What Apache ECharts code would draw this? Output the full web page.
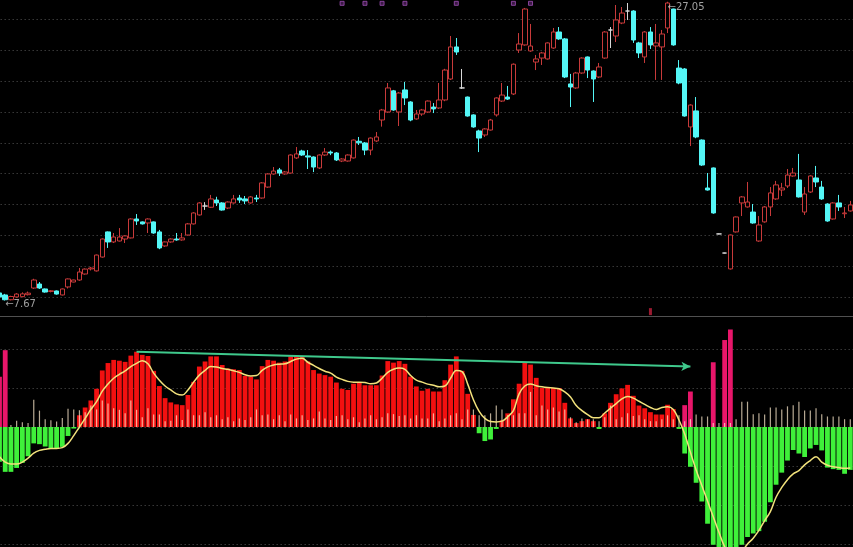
<!DOCTYPE html>
<html><head><meta charset="utf-8">
<script src="https://cdn.jsdelivr.net/npm/echarts@6/dist/echarts.min.js"></script>
<style>html,body{margin:0;padding:0;background:#000;overflow:hidden}#c{width:853px;height:547px}</style>
</head><body><div id="c"></div>
<script>
// ---- data ----
// candles: [open, close, low, high]
const candles = [
[8.16,7.90,7.83,8.29],[8.03,7.72,7.67,8.10],[7.72,7.93,7.68,7.98],[7.90,8.09,7.85,8.15],[7.92,8.10,7.88,8.20],
[8.05,8.15,8.00,8.25],[8.48,9.00,8.42,9.08],[8.74,8.48,8.42,8.87],[8.42,8.22,8.18,8.45],[8.26,8.30,8.20,8.35],
[8.29,8.09,8.05,8.32],[8.03,8.42,8.00,8.45],[8.55,9.07,8.45,9.10],[8.87,9.00,8.85,9.02],[9.00,9.52,8.95,9.78],
[9.39,9.71,9.35,9.75],[9.72,9.78,9.62,9.85],[9.59,10.62,9.55,10.65],[10.49,11.66,10.45,11.70],[12.12,11.47,11.08,12.15],
[11.47,11.79,11.40,12.05],[11.53,11.79,11.50,12.37],[11.66,11.86,11.40,11.90],[11.73,12.96,11.70,13.00],[12.96,12.83,12.57,13.28],
[12.77,12.64,12.60,12.80],[12.70,12.96,12.05,13.00],[12.77,12.05,12.00,12.80],[12.12,11.08,11.00,12.25],[11.21,11.47,11.15,11.50],
[11.47,11.66,11.42,11.70],[11.66,11.60,11.55,12.05],[11.60,11.73,11.55,12.05],[11.92,12.64,11.88,12.70],[12.64,13.35,12.60,13.40],
[13.22,14.00,13.18,14.05],[13.80,13.80,13.55,14.05],[13.72,14.26,13.68,14.52],[14.19,14.00,13.80,14.40],[14.00,13.54,13.50,14.05],
[13.67,14.06,13.60,14.10],[14.00,14.26,13.95,14.52],[14.32,14.19,14.00,14.52],[14.26,14.13,13.93,14.45],[14.00,14.39,13.95,14.45],
[14.32,14.26,14.06,14.52],[14.32,15.30,14.28,15.35],[15.03,15.88,14.98,15.93],[15.88,16.07,15.83,16.33],[16.14,15.94,15.75,16.27],
[15.88,16.01,15.83,16.07],[15.94,17.11,15.90,17.15],[16.92,17.18,16.85,17.63],[17.37,17.11,17.05,17.45],[17.05,16.98,16.20,17.43],
[16.98,16.33,16.00,17.02],[16.27,17.11,16.20,17.15],[17.11,17.30,17.05,17.56],[17.30,17.24,17.10,17.40],[17.24,16.79,16.72,17.30],
[16.72,16.85,16.65,16.90],[16.72,17.11,16.68,17.15],[16.92,18.08,16.88,18.12],[18.00,17.90,17.76,18.28],[17.89,17.43,17.10,17.95],
[17.43,18.21,17.10,18.25],[18.02,18.28,17.95,18.60],[19.38,20.03,18.95,20.10],[19.90,21.46,19.85,21.78],[21.27,20.03,19.98,21.33],
[19.90,21.13,18.99,21.20],[21.33,20.81,20.35,21.85],[20.55,19.38,19.30,20.60],[19.45,19.77,19.40,20.03],[19.77,20.03,19.65,20.10],
[19.90,20.61,19.85,20.65],[20.22,20.10,19.83,20.48],[20.16,20.68,20.10,21.78],[20.68,22.62,20.60,22.70],[22.04,24.12,21.98,24.83],
[24.12,23.79,23.60,24.70],[21.46,21.46,21.40,22.69],[20.87,19.64,19.60,20.90],[19.71,18.93,18.88,19.75],[18.67,18.21,17.30,18.75],
[18.41,18.80,18.28,18.85],[18.73,19.38,18.70,19.45],[19.71,20.81,19.60,20.85],[20.61,21.00,20.55,21.78],[20.87,20.74,20.68,21.59],
[21.07,23.00,21.00,23.05],[23.92,24.31,23.73,25.02],[24.25,26.58,24.20,26.65],[23.86,24.18,23.80,25.61],[23.14,23.34,22.62,23.60],
[23.40,23.73,22.95,23.80],[23.34,24.38,23.30,24.42],[24.05,25.09,24.00,25.35],[25.09,24.64,24.58,25.41],[24.64,22.17,22.10,24.70],
[21.72,21.52,20.22,22.37],[21.46,22.43,21.40,22.50],[22.43,23.40,22.38,23.45],[23.47,22.62,22.10,23.50],[22.56,22.04,20.55,22.60],
[22.17,22.82,22.10,23.08],[23.40,25.09,23.35,25.15],[25.22,25.22,24.05,25.41],[24.83,25.87,24.44,26.84],[25.67,26.32,25.60,26.71],
[26.45,26.45,25.87,26.97],[26.45,24.57,24.38,26.50],[24.38,23.73,23.40,24.45],[23.47,25.09,23.08,25.15],[25.09,24.25,23.99,25.41],
[24.18,24.38,21.98,25.61],[24.12,24.96,21.98,25.22],[25.35,26.97,25.02,27.05],[26.58,24.25,24.20,26.60],[22.75,21.78,21.70,23.27],
[22.69,19.64,19.60,22.75],[18.93,20.35,17.69,20.40],[19.97,18.28,18.20,20.87],[18.08,16.46,16.40,18.12],[14.97,14.84,14.80,15.94],
[16.27,13.35,13.30,16.30],[11.99,11.99,11.97,12.01],[10.75,10.75,10.73,10.77],[9.72,11.92,9.68,11.95],[12.12,13.09,12.08,13.12],
[14.00,14.39,13.15,14.45],[13.74,14.06,13.70,15.36],[13.41,12.70,12.65,13.93],[11.53,12.57,11.48,13.15],[12.77,13.74,12.72,13.80],
[13.74,14.65,13.15,15.03],[14.26,15.17,14.20,15.43],[14.84,14.97,14.45,15.30],[15.10,15.81,14.97,16.20],[15.75,15.94,15.70,16.27],
[15.49,14.39,14.35,17.18],[13.41,14.58,13.22,15.03],[14.71,15.75,14.65,15.80],[15.62,15.36,15.03,16.40],[15.03,14.26,14.20,15.43],
[13.93,12.83,12.78,13.98],[12.96,14.00,12.92,14.05],[14.00,13.74,13.48,14.52],[13.30,13.35,13.02,13.74],[13.48,13.87,13.44,14.13]
];
// oscillator histogram (red above zero, green below)
const hist = [
-0.89,-1.15,-1.15,-1.05,-0.92,-0.75,-0.42,-0.44,-0.50,-0.54,
-0.54,-0.51,-0.23,-0.04,0.30,0.50,0.68,0.98,1.45,1.64,
1.72,1.70,1.67,1.83,1.93,1.85,1.82,1.44,1.05,0.74,
0.63,0.58,0.56,0.82,1.16,1.55,1.68,1.81,1.81,1.59,
1.50,1.48,1.46,1.31,1.29,1.22,1.56,1.72,1.70,1.65,
1.68,1.81,1.83,1.82,1.68,1.46,1.37,1.33,1.29,1.14,
0.98,0.95,1.11,1.14,1.07,1.07,1.07,1.32,1.69,1.65,
1.69,1.62,1.29,1.04,0.93,0.98,0.91,0.91,1.20,1.60,
1.81,1.44,0.85,0.31,-0.16,-0.36,-0.32,-0.05,0.17,0.35,
0.71,1.11,1.65,1.60,1.26,1.00,1.00,1.00,1.00,0.62,
0.22,0.10,0.15,0.20,0.15,-0.05,0.35,0.62,0.84,0.99,
1.08,0.80,0.55,0.48,0.38,0.32,0.32,0.57,0.46,-0.05,
-0.68,-1.02,-1.43,-1.91,-2.48,-3.02,-3.30,-3.30,-3.30,-3.30,
-3.02,-2.82,-2.73,-2.67,-2.43,-1.93,-1.48,-1.17,-0.86,-0.59,
-0.68,-0.77,-0.55,-0.46,-0.60,-1.04,-1.08,-1.10,-1.20,-1.10
];
// smooth signal line
const signal = [
-0.76,-0.90,-0.95,-0.95,-0.90,-0.80,-0.67,-0.60,-0.57,-0.55,
-0.55,-0.53,-0.42,-0.22,0.00,0.22,0.45,0.65,0.92,1.10,
1.25,1.35,1.44,1.55,1.63,1.70,1.62,1.38,1.20,1.05,
0.95,0.85,0.82,0.95,1.15,1.33,1.45,1.55,1.54,1.50,
1.48,1.44,1.40,1.34,1.31,1.32,1.45,1.54,1.59,1.61,
1.62,1.68,1.74,1.76,1.66,1.58,1.50,1.43,1.38,1.28,
1.22,1.17,1.15,1.15,1.14,1.11,1.13,1.25,1.40,1.48,
1.51,1.48,1.32,1.20,1.15,1.10,1.07,1.03,1.05,1.25,
1.45,1.42,1.10,0.70,0.40,0.22,0.14,0.13,0.15,0.26,
0.42,0.85,1.05,1.10,1.06,1.03,1.01,1.00,0.98,0.90,
0.77,0.55,0.42,0.32,0.24,0.24,0.36,0.48,0.60,0.72,
0.78,0.74,0.66,0.58,0.50,0.45,0.50,0.52,0.45,0.18,
-0.18,-0.65,-1.10,-1.50,-1.90,-2.30,-2.70,-3.07,-3.30,-3.35,
-3.20,-3.00,-2.85,-2.65,-2.40,-2.17,-1.80,-1.55,-1.35,-1.20,
-1.12,-0.97,-0.86,-0.76,-0.90,-0.98,-1.02,-1.04,-1.06,-1.05
];
// thin vertical strokes
const strokes = [
0,0,0.05,0.16,0.12,0.10,0.70,0.42,0.20,0.17,
0.14,0.23,0.47,0.45,0.43,0.38,0.55,0.45,0.68,0.60,
0.48,0.44,0.35,0.68,0.44,0.25,0.48,0.32,0.32,0.15,
0.16,0.30,0.18,0.45,0.30,0.30,0.38,0.25,0.30,0.20,
0.25,0.15,0.22,0.18,0.25,0.45,0.30,0.32,0.20,0.30,
0.15,0.32,0.22,0.30,0.18,0.22,0.40,0.22,0.18,0.28,
0.30,0.20,0.25,0.12,0.22,0.30,0.20,0.25,0.35,0.33,
0.28,0.30,0.22,0.30,0.22,0.22,0.35,0.15,0.22,0.30,
0.35,0.20,0.45,0.45,0.30,0.30,0.35,0.55,0.45,0.30,
0.30,0.35,0.35,0.90,0.30,0.55,0.45,0.50,0.40,0.45,
0.25,0.12,0.22,0.20,0.20,0.15,0.25,0.55,0.20,0.25,
0.35,0.28,0.30,0.20,0.15,0.15,0.20,0.30,0.20,0.30,
0.15,0.20,0.32,0.27,0.27,0.10,0.10,0.10,0.10,0.20,
0.65,0.65,0.33,0.35,0.32,0.50,0.50,0.45,0.53,0.56,
0.65,0.42,0.42,0.48,0.33,0.27,0.27,0.27,0.20,0.20
];
// magenta signal bars
const pinkIdx = [0, 1, 120, 121, 125, 127, 128];
const pinkVal = [1.29, 1.97, 0.56, 0.91, 1.66, 2.23, 2.50];
// small purple markers along the top edge, red marker above the divider
const topMarkIdx = [60, 64, 67, 71, 80, 90, 93];
const topMarkLevel = 26.95;
const redMarkIdx = [114];
const redMarkLevel = 6.95;
// trend arrow on the oscillator
const trendFrom = [24, 1.93];
const trendTo = [121, 1.55];
// price extremes labels
const highMark = [117, 27.05];
const lowMark = [1, 7.67];

// ---- build ----
const cats = candles.map((_, i) => String(i));
const pinkData = cats.map(() => null);
pinkIdx.forEach((k, j) => { pinkData[k] = pinkVal[j]; });
const histData = hist.map(v => ({ value: v, itemStyle: { color: v >= 0 ? '#f21010' : '#3ff03a' } }));

const GL = -3.355, GW = 856.5;
const dotted = { color: '#555', width: 1, type: [1, 3] };
const hiddenCat = (gi) => ({
  type: 'category', gridIndex: gi, data: cats, boundaryGap: true,
  axisLine: { show: false }, axisTick: { show: false }, axisLabel: { show: false }, splitLine: { show: false }
});
const extremeLabel = (offset) => ({
  show: true, color: '#c8c8c8', fontSize: 10, fontFamily: 'DejaVu Sans', position: 'right', distance: 0,
  offset: offset, formatter: p => '\u2190' + p.value[1].toFixed(2)
});

const chart = echarts.init(document.getElementById('c'), null, { renderer: 'canvas' });
chart.setOption({
  backgroundColor: '#000',
  animation: false,
  grid: [
    { left: GL, width: GW, top: 19.5, height: 308.3, containLabel: false, outerBoundsMode: 'none' },
    { left: GL, width: GW, top: 349, height: 195, containLabel: false, outerBoundsMode: 'none' },
    { left: 0, right: 0, top: 315, height: 1, containLabel: false, outerBoundsMode: 'none' }
  ],
  xAxis: [
    hiddenCat(0), hiddenCat(1), hiddenCat(1),
    { type: 'value', gridIndex: 2, position: 'top', min: 0, max: 1,
      axisLine: { show: true, lineStyle: { color: '#505050', width: 1 } },
      axisTick: { show: false }, axisLabel: { show: false }, splitLine: { show: false } }
  ],
  yAxis: [
    { type: 'value', gridIndex: 0, min: 5.9, max: 25.9, interval: 2,
      axisLine: { show: false }, axisTick: { show: false }, axisLabel: { show: false },
      splitLine: { show: true, showMinLine: false, lineStyle: dotted } },
    { type: 'value', gridIndex: 1, min: -3, max: 2, interval: 1,
      axisLine: { show: false }, axisTick: { show: false }, axisLabel: { show: false },
      splitLine: { show: true, lineStyle: dotted } },
    { type: 'value', gridIndex: 2, show: false }
  ],
  series: [
    {
      type: 'candlestick', xAxisIndex: 0, yAxisIndex: 0, data: candles, barWidth: 5, clip: false,
      itemStyle: { color: '#000', color0: '#54f6f6', borderColor: '#c83a3a', borderColor0: '#54f6f6',
                   borderColorDoji: '#d8d8d8', borderWidth: 1 }
    },
    {
      type: 'scatter', xAxisIndex: 0, yAxisIndex: 0, symbolSize: 0, clip: false, silent: true,
      data: [ { value: highMark, label: extremeLabel([0, 6]) }, { value: lowMark, label: extremeLabel([0, 4]) } ]
    },
    {
      type: 'scatter', xAxisIndex: 0, yAxisIndex: 0, symbol: 'rect', symbolSize: 4, clip: false, silent: true,
      itemStyle: { color: '#4a1f55', borderColor: '#a050b8', borderWidth: 1 },
      data: topMarkIdx.map(i => [i, topMarkLevel])
    },
    {
      type: 'scatter', xAxisIndex: 0, yAxisIndex: 0, symbol: 'rect', symbolSize: [3, 7], clip: false, silent: true,
      itemStyle: { color: '#c0203c' },
      data: redMarkIdx.map(i => [i, redMarkLevel])
    },
    {
      type: 'bar', xAxisIndex: 1, yAxisIndex: 1, data: histData, barWidth: 4.8, barGap: '-100%', clip: false,
      markLine: {
        silent: true, symbol: ['none', 'arrow'], symbolSize: [7, 9],
        lineStyle: { color: '#3fc98c', width: 2, type: 'solid' }, label: { show: false },
        data: [[{ coord: trendFrom }, { coord: trendTo }]]
      }
    },
    {
      type: 'bar', xAxisIndex: 1, yAxisIndex: 1, data: pinkData, barWidth: 4.8, barGap: '-100%', clip: false,
      itemStyle: { color: '#e8166a' }
    },
    {
      type: 'bar', xAxisIndex: 2, yAxisIndex: 1, data: strokes, barWidth: 1.2, clip: false,
      itemStyle: { color: 'rgba(255,236,205,0.72)' }
    },
    {
      type: 'line', xAxisIndex: 1, yAxisIndex: 1, data: signal, smooth: 0.4, symbol: 'none', clip: false,
      lineStyle: { color: '#f2e27c', width: 1.5 }
    }
  ]
});
</script>
</body></html>
